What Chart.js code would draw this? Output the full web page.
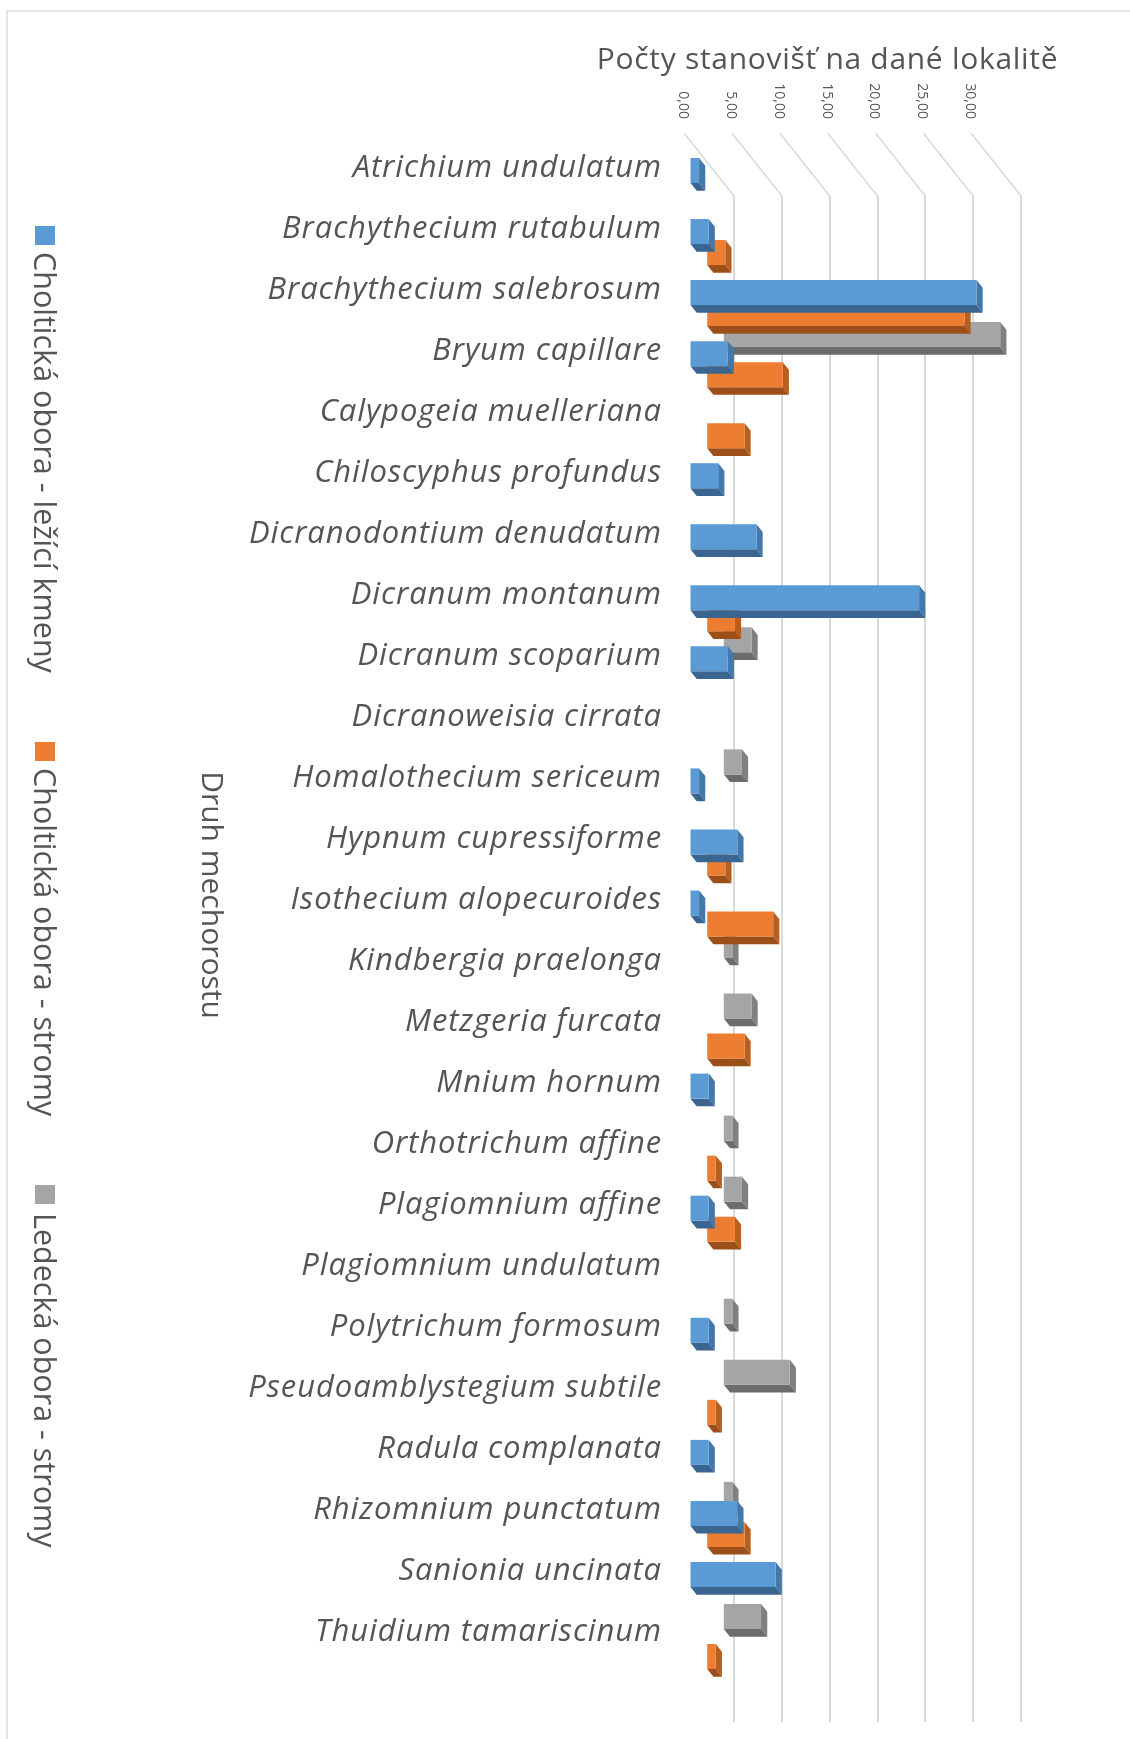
<!DOCTYPE html>
<html>
<head>
<meta charset="utf-8">
<style>
  body { margin: 0; background: #fff; }
  canvas { display: block; filter: blur(0.4px); }
</style>
</head>
<body>
<canvas id="chart" width="1130" height="1739"></canvas>

<script src="https://cdn.jsdelivr.net/npm/chart.js"></script>
<script>
var categories = [
    'Atrichium undulatum', 'Brachythecium rutabulum', 'Brachythecium salebrosum', 'Bryum capillare',
    'Calypogeia muelleriana', 'Chiloscyphus profundus', 'Dicranodontium denudatum', 'Dicranum montanum',
    'Dicranum scoparium', 'Dicranoweisia cirrata', 'Homalothecium sericeum', 'Hypnum cupressiforme',
    'Isothecium alopecuroides', 'Kindbergia praelonga', 'Metzgeria furcata', 'Mnium hornum',
    'Orthotrichum affine', 'Plagiomnium affine', 'Plagiomnium undulatum', 'Polytrichum formosum',
    'Pseudoamblystegium subtile', 'Radula complanata', 'Rhizomnium punctatum', 'Sanionia uncinata',
    'Thuidium tamariscinum'
];
var seriesNames = ['Choltická obora - ležící kmeny', 'Choltická obora - stromy', 'Ledecká obora - stromy'];
var kmeny = [1, 2, 30, 4, null, 3, 7, 24, 4, null, 1, 5, 1, null, null, 2, null, 2, null, 2, null, 2, 5, 9, null];
var stromy = [null, 2, 27, 8, 4, null, null, 3, null, null, null, 2, 7, null, 4, null, 1, 3, null, null, 1, null, 4, null, 1];
var ledecka = [null, null, 29, null, null, null, null, 3, null, 2, null, null, 1, 3, null, 1, 2, null, 1, 7, null, 1, null, 4, null];
var tickLabels = ['0,00', '5,00', '10,00', '15,00', '20,00', '25,00', '30,00'];
var valueTitle = 'Počty stanovišť na dané lokalitě';
var categoryTitle = 'Druh mechorostu';

var faceColors = ['#5b9bd5', '#ed7d31', '#a5a5a5'];
var sideColors = ['#4278aa', '#b85f20', '#808080'];
var bottomColors = ['#3a6591', '#9c4f18', '#6c6c6c'];

// fake 3D: each series sits at its own depth in front of the back wall
var depthOffsets = [[-44.5, -56], [-27.8, -35], [-11.2, -14]];
var bevel = [6.2, 7.7];
var legendSlots = [[226, 252], [742, 768], [1185, 1213]];

var textColor = '#555555';
var sans = '"Open Sans"';

function rotatedText(ctx, text, x, y, align) {
    ctx.save();
    ctx.translate(x, y);
    ctx.rotate(Math.PI / 2);
    ctx.textAlign = align;
    ctx.textBaseline = 'alphabetic';
    ctx.fillText(text, 0, 0);
    ctx.restore();
}

function polygon(ctx, color, pts) {
    ctx.fillStyle = color;
    ctx.beginPath();
    ctx.moveTo(pts[0][0], pts[0][1]);
    for (var i = 1; i < pts.length; i++) {
        ctx.lineTo(pts[i][0], pts[i][1]);
    }
    ctx.closePath();
    ctx.fill();
}

var boxPlugin = {
    id: 'box3d',
    beforeDraw: function (chart) {
        var ctx = chart.ctx;
        ctx.save();
        ctx.fillStyle = '#ffffff';
        ctx.fillRect(0, 0, chart.width, chart.height);
        // frame of the pasted picture
        ctx.strokeStyle = '#e4e4e4';
        ctx.lineWidth = 2;
        ctx.beginPath();
        ctx.moveTo(7, chart.height);
        ctx.lineTo(7, 11);
        ctx.lineTo(chart.width, 11);
        ctx.stroke();
        ctx.restore();
    },
    beforeDatasetsDraw: function (chart) {
        var ctx = chart.ctx;
        var scale = chart.scales.x;
        var top = chart.chartArea.top;
        ctx.save();
        scale.ticks.forEach(function (tick) {
            var px = scale.getPixelForValue(tick.value);
            ctx.strokeStyle = '#d9d9d9';
            ctx.lineWidth = 1.5;
            ctx.beginPath();
            ctx.moveTo(px, top);
            ctx.lineTo(px - 50, top - 63);
            ctx.stroke();
            ctx.fillStyle = textColor;
            ctx.font = '14px ' + sans;
            rotatedText(ctx, tick.label, px - 55, 119, 'right');
        });
        ctx.restore();
    },
    beforeDatasetDraw: function (chart, args) {
        var ctx = chart.ctx;
        var i = args.index;
        var offset = depthOffsets[i];
        ctx.save();
        ctx.translate(offset[0], offset[1]);
        var values = chart.data.datasets[i].data;
        args.meta.data.forEach(function (bar, n) {
            if (values[n] === null) return;
            var t = bar.y - bar.height / 2;
            var b = bar.y + bar.height / 2;
            polygon(ctx, sideColors[i], [[bar.x, t], [bar.x + bevel[0], t + bevel[1]], [bar.x + bevel[0], b + bevel[1]], [bar.x, b]]);
            polygon(ctx, bottomColors[i], [[bar.base, b], [bar.x, b], [bar.x + bevel[0], b + bevel[1]], [bar.base + bevel[0], b + bevel[1]]]);
        });
    },
    afterDatasetDraw: function (chart) {
        chart.ctx.restore();
    },
    afterDraw: function (chart) {
        var ctx = chart.ctx;
        ctx.save();
        ctx.fillStyle = textColor;

        ctx.letterSpacing = '0.7px';
        ctx.font = '30px ' + sans;
        ctx.textAlign = 'center';
        ctx.textBaseline = 'alphabetic';
        ctx.fillText(valueTitle, 827.5, 69);

        // category labels sit at the front of the box, not on the wall
        var yScale = chart.scales.y;
        ctx.letterSpacing = '0.9px';
        ctx.font = 'italic 31px ' + sans;
        ctx.textAlign = 'right';
        categories.forEach(function (name, i) {
            ctx.fillText(name, 662, yScale.getPixelForTick(i) - 49.8 - i * 0.04);
        });

        ctx.letterSpacing = '0px';
        ctx.font = '30px ' + sans;
        rotatedText(ctx, categoryTitle, 201.5, 895, 'center');

        seriesNames.forEach(function (name, i) {
            var slot = legendSlots[i];
            ctx.fillStyle = faceColors[i];
            ctx.fillRect(35, slot[0], 20, 19);
            ctx.fillStyle = textColor;
            ctx.font = '30.5px ' + sans;
            rotatedText(ctx, name, 34, slot[1], 'left');
        });
        ctx.restore();
    }
};

var data = {
    labels: categories,
    datasets: [kmeny, stromy, ledecka].map(function (values, i) {
        return {
            label: seriesNames[i],
            data: values,
            backgroundColor: faceColors[i],
            borderWidth: 0,
            clip: false
        };
    })
};

new Chart(document.getElementById('chart').getContext('2d'), {
    type: 'bar',
    data: data,
    plugins: [boxPlugin],
    options: {
        indexAxis: 'y',
        responsive: false,
        animation: false,
        grouped: false,
        barPercentage: 25 / 61,
        categoryPercentage: 1,
        layout: { padding: { left: 734, right: 109, top: 196, bottom: 17 } },
        plugins: {
            legend: { display: false },
            tooltip: { enabled: false }
        },
        scales: {
            x: {
                position: 'top',
                min: 0,
                max: 30,
                ticks: {
                    display: false,
                    stepSize: 5,
                    callback: function (value, index) { return tickLabels[index]; }
                },
                border: { display: false },
                grid: { color: '#d9d9d9', lineWidth: 2, drawTicks: false }
            },
            y: { display: false }
        }
    }
});
</script>
</body>
</html>
